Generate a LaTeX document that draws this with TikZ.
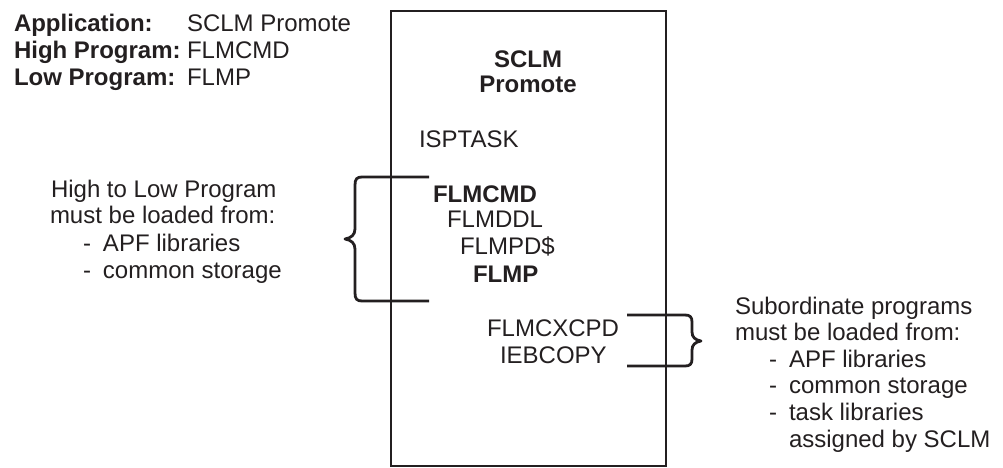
\documentclass[tikz,border=0pt]{standalone}
\usepackage{fontspec}
\setmainfont{Liberation Sans}
\definecolor{ink}{RGB}{35,31,32}
\begin{document}
\begin{tikzpicture}[x=1pt,y=-1pt,
  txt/.style={anchor=base west, inner sep=0pt, outer sep=0pt, font=\fontsize{24}{27}\selectfont, text=ink},
  bold/.style={txt, font=\fontsize{24}{27}\selectfont\bfseries},
  ln/.style={line width=2.8pt, draw=ink},
  brace/.style={line width=2.8pt, draw=ink, line join=round, line cap=butt}]
\useasboundingbox (0,0) rectangle (1003,468);
% main box
\node[ln, rectangle, minimum width=275pt, minimum height=455pt, inner sep=0pt, outer sep=0pt] (box) at (528.5,238.5) {};
% header
\node[bold] (app) at (14,32) {Application:};
\node[txt] (appv) at (187,32) {SCLM Promote};
\node[bold] (high) at (14,59) {High Program:};
\node[txt] (highv) at (187,59) {FLMCMD};
\node[bold] (low) at (14,86) {Low Program:};
\node[txt] (lowv) at (187,86) {FLMP};
% box title
\node[bold, anchor=base] (t1) at (528,68) {SCLM};
\node[bold, anchor=base] (t2) at (528,93) {Promote};
% programs
\node[txt] (p0) at (419,147) {ISPTASK};
\node[bold] (p1) at (433,202) {FLMCMD};
\node[txt] (p2) at (447,227) {FLMDDL};
\node[txt] (p3) at (460,254) {FLMPD\$};
\node[bold] (p4) at (473,282) {FLMP};
\node[txt] (p5) at (487,336) {FLMCXCPD};
\node[txt] (p6) at (500,363) {IEBCOPY};
% left note
\node[txt] (l1) at (51,197) {High to Low Program};
\node[txt] (l2) at (50,223) {must be loaded from:};
\node[txt] (l3) at (83,251) {-\hspace{12pt}APF libraries};
\node[txt] (l4) at (83,278) {-\hspace{12pt}common storage};
% right note
\node[txt] (r1) at (735,314) {Subordinate programs};
\node[txt] (r2) at (735,340) {must be loaded from:};
\node[txt] (r3) at (769,367) {-\hspace{12pt}APF libraries};
\node[txt] (r4) at (769,393) {-\hspace{12pt}common storage};
\node[txt] (r5) at (769,420) {-\hspace{12pt}task libraries};
\node[txt] (r6) at (789,447) {assigned by SCLM};
% left brace
\coordinate (lbT) at (429,177);
\coordinate (lbB) at (429,301);
\coordinate (lbTip) at (345,239);
\draw[brace] (lbT) -- (362,177) .. controls (357,177) and (355,179) .. (355,185)
  -- (355,229) .. controls (355,235) and (351,238) .. (lbTip)
  .. controls (351,240) and (355,243) .. (355,249)
  -- (355,293) .. controls (355,299) and (357,301) .. (362,301) -- (lbB);
% right brace
\coordinate (rbT) at (627,315);
\coordinate (rbB) at (627,366);
\coordinate (rbTip) at (701,341);
\draw[brace] (rbT) -- (685,315) .. controls (690,315) and (692,317) .. (692,322)
  -- (692,332) .. controls (692,337) and (695,340) .. (rbTip)
  .. controls (695,342) and (692,345) .. (692,350)
  -- (692,359) .. controls (692,364) and (690,366) .. (685,366) -- (rbB);
\end{tikzpicture}
\end{document}
